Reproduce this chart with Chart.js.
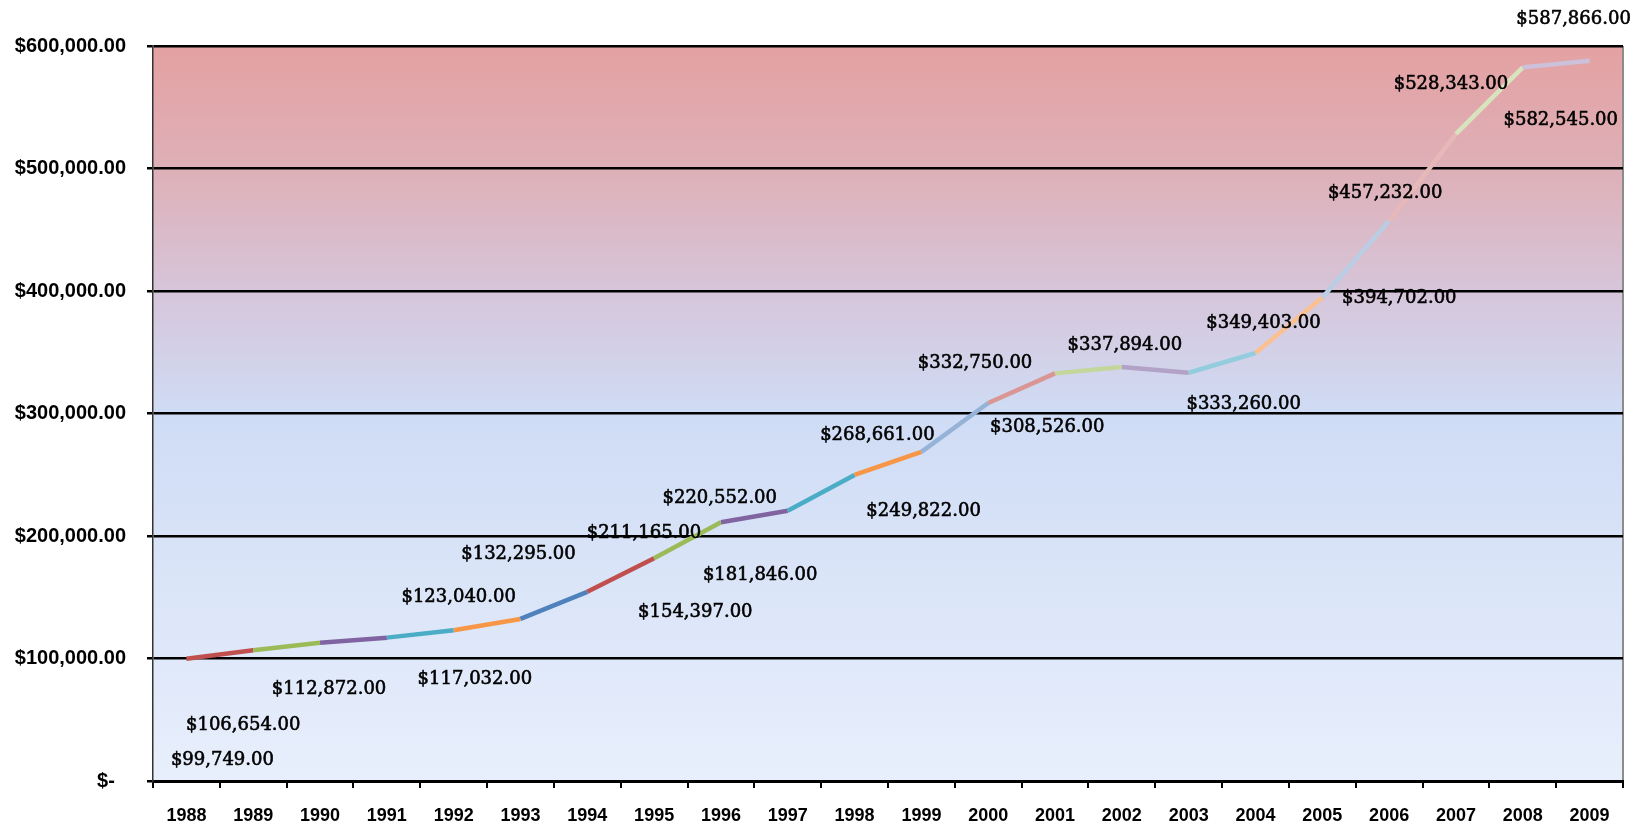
<!DOCTYPE html>
<html>
<head>
<meta charset="utf-8">
<script src="https://cdn.jsdelivr.net/npm/chart.js@4.4.1/dist/chart.umd.min.js"></script>
<style>
  html, body { margin: 0; padding: 0; background: #fff; }
  #wrap { width: 1652px; height: 827px; }
</style>
</head>
<body>
<div id="wrap"><canvas id="valueChart" width="1652" height="827"></canvas></div>
<script>
// years on the x axis
const years = ['1988', '1989', '1990', '1991', '1992', '1993', '1994', '1995', '1996', '1997', '1998',
               '1999', '2000', '2001', '2002', '2003', '2004', '2005', '2006', '2007', '2008', '2009'];

// value for each year
const values = [99749, 106654, 112872, 117032, 123040, 132295, 154397, 181846, 211165, 220552, 249822,
                268661, 308526, 332750, 337894, 333260, 349403, 394702, 457232, 528343, 582545, 587866];

// y axis ticks
const yTicks = [0, 100000, 200000, 300000, 400000, 500000, 600000];

// one colour per segment (Excel "vary colours by point")
const segColors = ['#C0504D', '#9BBB59', '#8064A2', '#4BACC6', '#F79646', '#4F81BD',
                   '#C0504D', '#9BBB59', '#8064A2', '#4BACC6', '#F79646', '#95B3D7',
                   '#D99694', '#C3D69B', '#B2A2C7', '#93CDDD', '#FAC090', '#B9CDE5',
                   '#E6B9B8', '#D7E4BD', '#CCC1DA'];

// where each value label sits relative to its point (px)
const labelOffsets = [[36, 102], [-10, 75], [9, 47], [88, 42], [5, -33], [-2, -65],
                      [108, 20], [106, 17], [-77, 11], [-68, -12], [69, 36], [-44, -17],
                      [59, 24], [-80, -10], [3, -22], [55, 32], [8, -30], [77, 1],
                      [-4, -28], [-5, -49], [38, 53], [-16, -42]];

const money = (v) => '$' + v.toLocaleString('en-US', { minimumFractionDigits: 2, maximumFractionDigits: 2 });

// gradient plot background + grey right border
const plotBg = {
    id: 'plotBg',
    beforeDraw(chart) {
        const { ctx, chartArea: a } = chart;
        const g = ctx.createLinearGradient(0, a.top, 0, a.bottom);
        g.addColorStop(0, '#E4A1A2');
        g.addColorStop(0.17, '#DEB0B8');
        g.addColorStop(0.34, '#D6C6DB');
        g.addColorStop(0.5, '#CFDCF5');
        g.addColorStop(1, '#E8EFFC');
        ctx.save();
        ctx.fillStyle = g;
        ctx.fillRect(a.left, a.top, a.right - a.left, a.bottom - a.top);
        ctx.strokeStyle = '#8c8c8c';
        ctx.lineWidth = 2;
        ctx.beginPath();
        ctx.moveTo(a.right, a.top);
        ctx.lineTo(a.right, a.bottom);
        ctx.stroke();
        ctx.restore();
    }
};

// value labels
const valueLabels = {
    id: 'valueLabels',
    afterDatasetsDraw(chart) {
        const { ctx } = chart;
        const meta = chart.getDatasetMeta(0);
        ctx.save();
        ctx.font = '18px "DejaVu Serif"';
        ctx.fillStyle = '#000';
        ctx.strokeStyle = '#000';
        ctx.lineWidth = 0.6;
        ctx.textAlign = 'center';
        ctx.textBaseline = 'middle';
        meta.data.forEach((pt, i) => {
            const [dx, dy] = labelOffsets[i];
            const t = money(values[i]);
            ctx.fillText(t, pt.x + dx, pt.y + dy);
            ctx.strokeText(t, pt.x + dx, pt.y + dy);
        });
        ctx.restore();
    }
};

const chart = new Chart(document.getElementById('valueChart'), {
    type: 'line',
    data: {
        labels: years,
        datasets: [{
            data: values,
            borderWidth: 4.5,
            borderColor: segColors[0],
            pointRadius: 0,
            tension: 0,
            segment: {
                borderColor: (c) => segColors[c.p0DataIndex]
            }
        }]
    },
    options: {
        responsive: false,
        animation: false,
        layout: { padding: { top: 46, right: 29, left: 0, bottom: 0 } },
        plugins: {
            legend: { display: false },
            tooltip: { enabled: false }
        },
        scales: {
            x: {
                offset: true,
                afterFit: (s) => { s.height = 46; },
                grid: {
                    offset: true,
                    drawOnChartArea: false,
                    drawTicks: true,
                    tickLength: 7,
                    color: '#000',
                    lineWidth: 2
                },
                border: { color: '#000', width: 3 },
                ticks: {
                    autoSkip: false,
                    maxRotation: 0,
                    padding: 17,
                    color: '#000',
                    font: { family: '"Liberation Sans"', size: 18, weight: 'bold' }
                }
            },
            y: {
                min: 0,
                max: 600000,
                afterFit: (s) => { s.width = 153; },
                afterBuildTicks: (s) => { s.ticks = yTicks.map((v) => ({ value: v })); },
                grid: {
                    color: '#000',
                    lineWidth: 2.5,
                    tickLength: 6
                },
                border: { color: '#333', width: 1.5 },
                ticks: {
                    padding: 21,
                    color: '#000',
                    font: { family: '"Liberation Sans"', size: 20, weight: 'bold' },
                    callback: (v) => v === 0 ? '$-  ' : money(v)
                }
            }
        }
    },
    plugins: [plotBg, valueLabels]
});
</script>
</body>
</html>
